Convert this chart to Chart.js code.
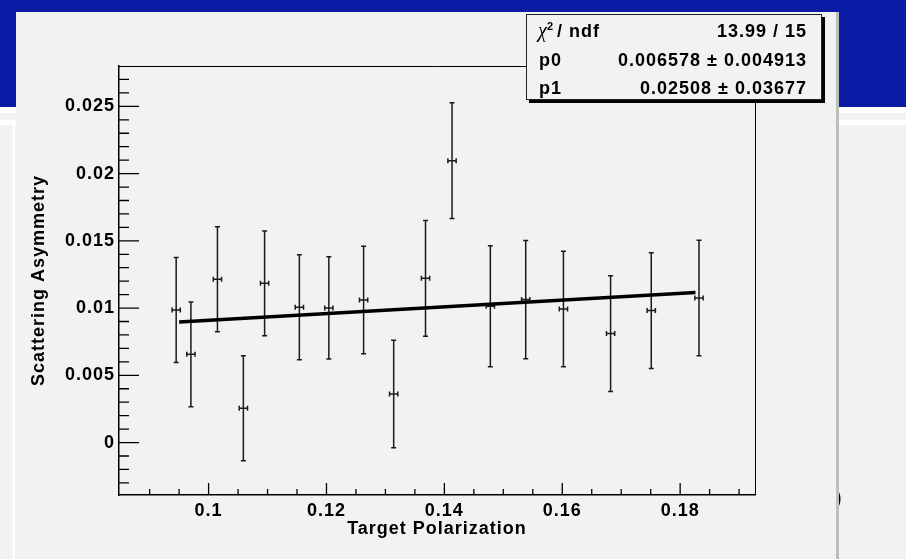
<!DOCTYPE html>
<html>
<head>
<meta charset="utf-8">
<title>Scattering Asymmetry vs Target Polarization</title>
<script src="https://cdn.jsdelivr.net/npm/chart.js@4.4.1/dist/chart.umd.min.js"></script>
<style>
  html, body { margin: 0; padding: 0; background: #fff; overflow: hidden; }
  canvas { display: block; }
</style>
</head>
<body>
<canvas id="myChart" width="906" height="559"></canvas>
<script>
// measured asymmetry per polarization bin
const polarization = [0.0945, 0.0970, 0.1015, 0.1059, 0.1095, 0.1154, 0.1204, 0.1263, 0.1314,
                      0.1368, 0.1413, 0.1478, 0.1538, 0.1602, 0.1682, 0.1751, 0.1832];
const polarizationErr = [0.0007, 0.0007, 0.0007, 0.0007, 0.0007, 0.0007, 0.0007, 0.0007, 0.0007,
                         0.0007, 0.0007, 0.0007, 0.0007, 0.0007, 0.0007, 0.0007, 0.0007];
const asymmetry = [0.00986, 0.00656, 0.01214, 0.00255, 0.01184, 0.01006, 0.01001, 0.01060, 0.00361,
                   0.01221, 0.02096, 0.01013, 0.01063, 0.00993, 0.00810, 0.00981, 0.01075];
const asymmetryErr = [0.0039, 0.0039, 0.0039, 0.0039, 0.0039, 0.0039, 0.0038, 0.0040, 0.0040,
                      0.0043, 0.0043, 0.0045, 0.0044, 0.0043, 0.0043, 0.0043, 0.0043];

// pol1 fit: p0 + p1*x
const fitParams = [0.006578, 0.02508];
const fitErrors = [0.004913, 0.03677];
const fitChi2 = 13.99;
const fitNdf = 15;
const fitRange = [0.095, 0.1826];

const xTicks = [0.1, 0.12, 0.14, 0.16, 0.18];
const yTicks = [0, 0.005, 0.01, 0.015, 0.02, 0.025];

const FONT = "'Liberation Sans', Arial, Helvetica, sans-serif";
const labelFont = { family: FONT, size: 18, weight: 'bold' };

// slide background + ROOT canvas pad
const slideBackground = {
  id: 'slideBackground',
  beforeDraw(chart) {
    const c = chart.ctx;
    const W = chart.width, H = chart.height;
    c.save();
    c.fillStyle = '#ffffff';
    c.fillRect(0, 0, W, H);
    c.fillStyle = '#0a1ca6';
    c.fillRect(0, 0, W, 107);
    c.fillStyle = '#f2f2f2';
    c.fillRect(0, 113, W, 7);
    c.fillRect(0, 125, W, H - 125);
    c.fillStyle = '#ffffff';
    c.fillRect(12.5, 120, 2.5, H - 120);
    c.fillStyle = '#000';
    c.font = '24px ' + FONT;
    c.textBaseline = 'middle';
    c.fillText(')', 834, 498);
    c.fillStyle = '#f2f2f2';
    c.fillRect(16, 12, 820, H - 12);
    c.fillStyle = '#bdbdbd';
    c.fillRect(836, 12, 3, H - 12);
    c.restore();
    c.letterSpacing = '1px';
  }
};

// vertical and horizontal error bars
const errorBars = {
  id: 'errorBars',
  beforeDatasetsDraw(chart) {
    const { ctx: c, scales: { x, y } } = chart;
    c.save();
    c.strokeStyle = '#1a1a1a';
    c.lineWidth = 1.5;
    polarization.forEach((px, i) => {
      const cx = x.getPixelForValue(px);
      const cy = y.getPixelForValue(asymmetry[i]);
      const yTop = y.getPixelForValue(asymmetry[i] + asymmetryErr[i]);
      const yBot = y.getPixelForValue(asymmetry[i] - asymmetryErr[i]);
      const xl = x.getPixelForValue(px - polarizationErr[i]);
      const xr = x.getPixelForValue(px + polarizationErr[i]);
      c.beginPath();
      c.moveTo(cx, yTop); c.lineTo(cx, yBot);
      c.moveTo(cx - 2.5, yTop); c.lineTo(cx + 2.5, yTop);
      c.moveTo(cx - 2.5, yBot); c.lineTo(cx + 2.5, yBot);
      c.moveTo(xl, cy); c.lineTo(xr, cy);
      c.moveTo(xl, cy - 2.5); c.lineTo(xl, cy + 2.5);
      c.moveTo(xr, cy - 2.5); c.lineTo(xr, cy + 2.5);
      c.stroke();
    });
    c.restore();
  }
};

// frame and inward ticks (major + minor)
const rootAxes = {
  id: 'rootAxes',
  afterDatasetsDraw(chart) {
    const { ctx: c, chartArea: a, scales: { x, y } } = chart;
    c.save();
    c.strokeStyle = '#000';
    c.lineWidth = 1;
    c.beginPath();
    c.moveTo(a.left, a.top + 0.5);
    c.lineTo(a.right + 0.5, a.top + 0.5);
    c.lineTo(a.right + 0.5, a.bottom);
    c.stroke();

    c.lineWidth = 1.3;
    c.beginPath();
    for (let i = Math.ceil(x.min / 0.005); i * 0.005 <= x.max; i++) {
      const px = x.getPixelForValue(i * 0.005);
      if (px - a.left < 2 || a.right - px < 2) continue;
      const len = i % 4 === 0 ? 12 : 6;
      c.moveTo(px, a.bottom);
      c.lineTo(px, a.bottom - len);
    }
    for (let i = Math.ceil(y.min / 0.001); i * 0.001 <= y.max; i++) {
      const py = y.getPixelForValue(i * 0.001);
      if (py - a.top < 2 || a.bottom - py < 2) continue;
      const len = i % 5 === 0 ? 20 : 10;
      c.moveTo(a.left, py);
      c.lineTo(a.left + len, py);
    }
    c.stroke();
    c.restore();
  }
};

// fit statistics box
const statsBox = {
  id: 'statsBox',
  afterDraw(chart) {
    const c = chart.ctx;
    const bx = 526, by = 14, bw = 296, bh = 86;
    c.save();
    c.fillStyle = '#000';
    c.fillRect(bx + 3, by + 3, bw, bh);
    c.fillStyle = '#f2f2f2';
    c.fillRect(bx, by, bw, bh);
    c.strokeStyle = '#222';
    c.lineWidth = 1;
    c.strokeRect(bx + 0.5, by + 0.5, bw - 1, bh - 1);

    c.fillStyle = '#000';
    c.textBaseline = 'alphabetic';
    c.letterSpacing = '0px';
    c.font = 'italic 20px "Liberation Serif", "Times New Roman", serif';
    c.textAlign = 'left';
    c.fillText('\u03c7', 538, 37);
    c.letterSpacing = '1px';
    c.font = 'bold 11px ' + FONT;
    c.fillText('2', 547, 30);
    c.font = 'bold 18px ' + FONT;
    c.fillText('/ ndf', 557, 36.5);
    c.fillText('p0', 539, 65.5);
    c.fillText('p1', 539, 94);

    c.textAlign = 'right';
    c.fillText(fitChi2 + ' / ' + fitNdf, 807, 36.5);
    c.fillText(fitParams[0] + ' \u00b1 ' + fitErrors[0], 807, 65.5);
    c.fillText(fitParams[1] + ' \u00b1 ' + fitErrors[1], 807, 94);
    c.restore();
  }
};

const ctx = document.getElementById('myChart').getContext('2d');

new Chart(ctx, {
  type: 'scatter',
  data: {
    datasets: [
      {
        label: 'Asymmetry',
        data: polarization.map((v, i) => ({ x: v, y: asymmetry[i] })),
        pointRadius: 0,
        pointHoverRadius: 0
      },
      {
        label: 'pol1',
        data: fitRange.map(v => ({ x: v, y: fitParams[0] + fitParams[1] * v })),
        showLine: true,
        borderColor: '#000',
        borderWidth: 3.5,
        pointRadius: 0,
        pointHoverRadius: 0
      }
    ]
  },
  options: {
    responsive: false,
    animation: false,
    devicePixelRatio: 1,
    events: [],
    layout: { padding: { top: 66, right: 151, left: 0, bottom: 0 } },
    plugins: {
      legend: { display: false },
      tooltip: { enabled: false }
    },
    scales: {
      x: {
        type: 'linear',
        min: 0.0848,
        max: 0.1927,
        afterBuildTicks: s => { s.ticks = xTicks.map(v => ({ value: v })); },
        afterFit: s => { s.height = 64; },
        grid: { display: false, drawTicks: false },
        border: { display: true, color: '#000', width: 1.5 },
        ticks: {
          color: '#000',
          padding: 5,
          font: labelFont,
          maxRotation: 0,
          autoSkip: false,
          callback: v => String(v)
        },
        title: {
          display: true,
          text: 'Target Polarization',
          color: '#000',
          font: labelFont,
          padding: { top: 0, bottom: 19 }
        }
      },
      y: {
        type: 'linear',
        min: -0.0039,
        max: 0.028,
        afterBuildTicks: s => { s.ticks = yTicks.map(v => ({ value: v })); },
        afterFit: s => { s.width = 119; },
        grid: { display: false, drawTicks: false },
        border: { display: true, color: '#000', width: 1.5 },
        ticks: {
          color: '#000',
          padding: 4,
          font: labelFont,
          autoSkip: false,
          callback: v => String(v)
        },
        title: {
          display: true,
          text: 'Scattering Asymmetry',
          color: '#000',
          font: labelFont,
          padding: { top: 28, bottom: 0 }
        }
      }
    }
  },
  plugins: [slideBackground, errorBars, rootAxes, statsBox]
});
</script>
</body>
</html>
